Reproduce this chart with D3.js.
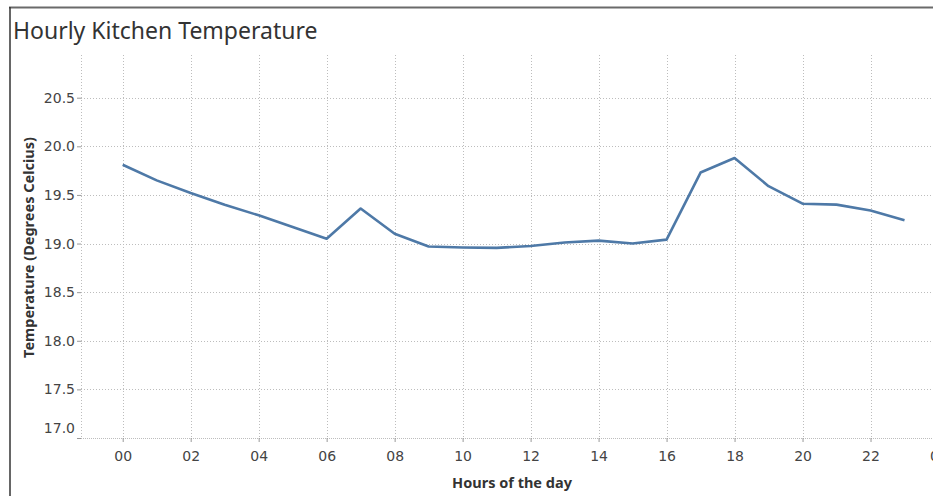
<!DOCTYPE html>
<html>
<head>
<meta charset="utf-8">
<script src="https://cdn.jsdelivr.net/npm/d3@7"></script>
<style>
  html, body { margin: 0; padding: 0; background: #fff; overflow: hidden; }
  svg { display: block; font-family: "Noto Sans", "Open Sans", sans-serif; }
</style>
</head>
<body>
<div id="vis-display"></div>
<script>
// Hourly kitchen temperature, one point per hour of the day (line).

const HOURS  = [0, 1, 2, 3, 4, 5, 6, 7, 8, 9, 10, 11, 12, 13, 14, 15, 16, 17, 18, 19, 20, 21, 22, 23];
const TEMPS  = [19.81, 19.65, 19.52, 19.40, 19.29, 19.17, 19.05, 19.36, 19.10, 18.97, 18.96, 18.955,
                18.975, 19.01, 19.03, 19.00, 19.04, 19.73, 19.88, 19.59, 19.41, 19.40, 19.34, 19.24];
const X_TICKS = [0, 2, 4, 6, 8, 10, 12, 14, 16, 18, 20, 22, 24];
const Y_TICKS = [17.0, 17.5, 18.0, 18.5, 19.0, 19.5, 20.0, 20.5];

const W = 933, H = 497;
const plot = { left: 81, right: 933, top: 55, bottom: 438 };

const data = HOURS.map((h, i) => ({ hour: h, temp: TEMPS[i] }));

const svg = d3.select("#vis-display").append("svg")
  .attr("width", W)
  .attr("height", H);

// ── Scales ────────────────────────────────────────────────────────────────

const x = d3.scaleLinear().domain([0, 24]).range([122.7, 938.5]);
const y = d3.scaleLinear().domain([17, 20.5]).range([plot.bottom, 97.7]);

const GRID = "#bdbdbd";
const TICK_FONT = "\"DejaVu Sans\", sans-serif";

// ── Frame ─────────────────────────────────────────────────────────────────

svg.append("line")
  .attr("x1", 9).attr("x2", W).attr("y1", 7.5).attr("y2", 7.5)
  .attr("stroke", "#6a6a6a").attr("stroke-width", 2);
svg.append("line")
  .attr("x1", 10).attr("x2", 10).attr("y1", 7).attr("y2", 496)
  .attr("stroke", "#333").attr("stroke-width", 1.5);

svg.append("text")
  .attr("x", 13).attr("y", 38.5)
  .style("font-size", "23px")
  .style("fill", "#333")
  .text("Hourly Kitchen Temperature");

// ── Gridlines ─────────────────────────────────────────────────────────────

const grid = svg.append("g");

grid.selectAll("line.h")
  .data(Y_TICKS.filter(v => v > 17))
  .join("line")
    .attr("class", "h")
    .attr("x1", plot.left).attr("x2", plot.right)
    .attr("y1", d => Math.round(y(d)) + 0.5).attr("y2", d => Math.round(y(d)) + 0.5)
    .attr("stroke", GRID).attr("stroke-dasharray", "1,2");

grid.selectAll("line.v")
  .data(X_TICKS)
  .join("line")
    .attr("class", "v")
    .attr("x1", d => Math.round(x(d)) + 0.5).attr("x2", d => Math.round(x(d)) + 0.5)
    .attr("y1", plot.top).attr("y2", plot.bottom)
    .attr("stroke", GRID).attr("stroke-dasharray", "1,2");

// y axis line (dotted) and x axis line
grid.append("line")
  .attr("x1", plot.left + 0.5).attr("x2", plot.left + 0.5)
  .attr("y1", plot.top).attr("y2", plot.bottom)
  .attr("stroke", GRID).attr("stroke-dasharray", "1,2");
grid.append("line")
  .attr("x1", plot.left - 4).attr("x2", plot.right)
  .attr("y1", plot.bottom + 0.5).attr("y2", plot.bottom + 0.5)
  .attr("stroke", GRID).attr("stroke-dasharray", "1,1");

// ── Axes ──────────────────────────────────────────────────────────────────

const xAxis = svg.append("g")
  .attr("transform", `translate(0,${plot.bottom})`)
  .call(d3.axisBottom(x).tickValues(X_TICKS).tickSize(4).tickPadding(9)
    .tickFormat(d => d3.format("02d")(d % 24)));
xAxis.select(".domain").remove();
xAxis.selectAll(".tick line").attr("stroke", "#999");
xAxis.selectAll("text")
  .style("font-size", "14px")
  .style("fill", "#444")
  .style("font-family", TICK_FONT);

const yAxis = svg.append("g")
  .attr("transform", `translate(${plot.left},0)`)
  .call(d3.axisLeft(y).tickValues(Y_TICKS).tickSize(4).tickPadding(2)
    .tickFormat(d3.format(".1f")));
yAxis.select(".domain").remove();
yAxis.selectAll(".tick line").attr("stroke", "#999");
yAxis.selectAll("text")
  .style("font-size", "14px")
  .style("fill", "#444")
  .style("font-family", TICK_FONT);
// bottom label is pushed up to stay inside the pane, as in the original
yAxis.selectAll(".tick text").filter(d => d === 17).attr("dy", "-0.4em");

// ── Axis titles ───────────────────────────────────────────────────────────

svg.append("text")
  .attr("transform", `translate(34,${(plot.top + plot.bottom) / 2 + 1}) rotate(-90)`)
  .attr("text-anchor", "middle")
  .style("font-size", "14.5px")
  .style("font-weight", "bold")
  .style("fill", "#333")
  .text("Temperature (Degrees Celcius)");

svg.append("text")
  .attr("x", 512).attr("y", 488)
  .attr("text-anchor", "middle")
  .style("font-size", "14.5px")
  .style("font-weight", "bold")
  .style("fill", "#333")
  .text("Hours of the day");

// ── Line ──────────────────────────────────────────────────────────────────

svg.append("path")
  .datum(data)
  .attr("fill", "none")
  .attr("stroke", "#4e79a7")
  .attr("stroke-width", 2.6)
  .attr("stroke-linejoin", "round")
  .attr("d", d3.line().x(d => x(d.hour)).y(d => y(d.temp)));
</script>
</body>
</html>
